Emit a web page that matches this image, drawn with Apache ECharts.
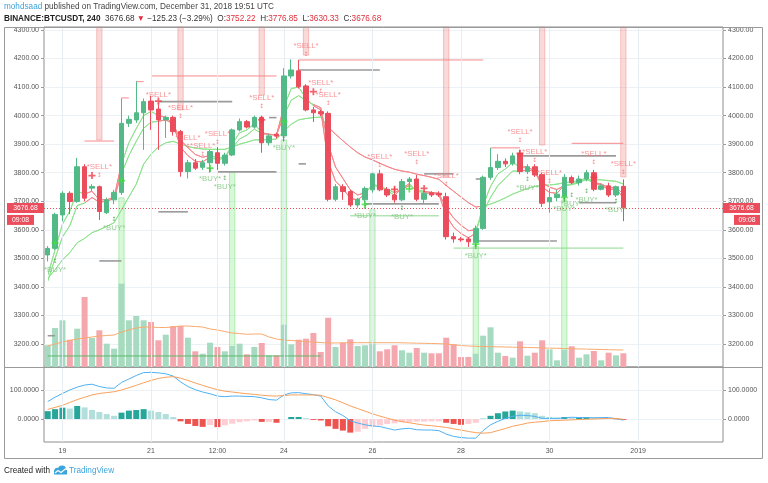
<!DOCTYPE html>
<html><head><meta charset="utf-8">
<script src="https://cdn.jsdelivr.net/npm/echarts@6/dist/echarts.min.js"></script>
<style>html,body{margin:0;padding:0;background:#fff}#c{width:768px;height:483px}</style>
</head><body><div id="c"></div>
<script>
// ---------------- data (BINANCE:BTCUSDT, 240) ----------------
const opens  = [3512,3535,3652,3728,3699,3821,3746,3751,3660,3705,3731,3973,3985,4010,4051,4023,3985,3994,3944,3804,3835,3819,3835,3870,3833,3862,3950,3979,3960,3994,3905,3935,3929,4139,4157,4104,4020,4014,4008,3707,3751,3734,3687,3705,3740,3796,3742,3722,3705,3769,3778,3707,3730,3728,3716,3576,3568,3568,3555,3605,3784,3818,3840,3831,3868,3804,3821,3794,3698,3713,3716,3783,3765,3778,3800,3742,3754,3722,3752.22];
const closes = [3535,3654,3728,3699,3821,3711,3752,3664,3705,3731,3973,3987,4010,4049,4020,3985,3994,3944,3804,3835,3816,3835,3874,3833,3862,3950,3979,3960,3994,3905,3929,3928,4139,4160,4101,4020,4010,4006,3707,3751,3734,3687,3707,3745,3796,3740,3722,3705,3769,3778,3707,3728,3722,3722,3576,3568,3565,3558,3605,3784,3818,3840,3831,3859,3804,3821,3792,3693,3713,3725,3784,3765,3778,3800,3742,3754,3722,3751,3676.68];
const highs  = [3543,3660,3735,3735,3852,3830,3760,3755,3713,3740,4061,4000,4120,4060,4070,4050,4000,4000,3950,3845,3848,3845,3880,3890,3870,3955,3990,3985,4000,4000,3935,3940,4166,4197,4195,4110,4030,4020,4015,3760,3760,3740,3712,3752,3800,3810,3750,3750,3778,3785,3792,3735,3735,3735,3730,3590,3575,3575,3615,3790,3887,3865,3850,3870,3880,3830,3830,3800,3745,3740,3795,3790,3790,3810,3810,3760,3765,3755,3776.85];
const lows   = [3489,3530,3630,3655,3695,3700,3735,3634,3655,3690,3722,3960,3975,3880,3950,3880,3922,3930,3786,3780,3810,3810,3800,3810,3825,3858,3945,3955,3955,3870,3895,3920,3909,4130,4095,4015,3978,3998,3700,3700,3705,3680,3678,3690,3730,3735,3715,3695,3700,3740,3700,3690,3715,3715,3566,3555,3558,3540,3540,3600,3775,3810,3820,3825,3795,3795,3785,3680,3660,3700,3700,3760,3755,3770,3735,3738,3715,3715,3630.33];
const volumes = [2170,3900,4670,2730,3830,7000,2900,3670,2330,1830,8330,4670,5100,4670,4500,2670,3230,4100,4100,2930,1570,1330,2430,2000,1570,2100,2330,1270,2000,2400,1170,1170,4230,2270,2730,2830,3400,1500,4930,2000,2400,2770,2100,2170,2270,1570,1770,2170,1670,1430,1900,1430,1370,1370,2930,2270,1000,1000,1330,3130,3970,1430,1100,930,2570,1130,1430,2670,1770,670,1730,2070,930,1270,1600,670,1430,1170,1370];
const volumeMA = [2100,2300,2500,2650,2800,2900,3000,3100,3150,3200,3500,3700,3900,4000,4000,3950,3950,4000,4100,4100,4050,4000,3800,3700,3550,3400,3350,3270,3300,3300,3000,2800,2700,2650,2600,2550,2500,2450,2400,2400,2430,2430,2430,2430,2430,2430,2430,2430,2420,2400,2380,2370,2350,2330,2300,2230,2150,2100,2070,2050,2030,2020,2000,1980,1970,1950,1930,1910,1890,1870,1850,1830,1810,1790,1770,1750,1730,1710,1700];
const emaFast = [3440,3530,3620,3665,3735,3725,3735,3705,3705,3715,3830,3905,3955,4000,4015,4000,3995,3970,3890,3860,3840,3838,3855,3845,3852,3900,3940,3950,3972,3940,3935,3932,4030,4095,4100,4060,4035,4020,3840,3770,3745,3710,3705,3725,3760,3752,3737,3721,3745,3762,3735,3731,3727,3725,3650,3609,3587,3572,3588,3686,3752,3796,3813,3836,3820,3820,3806,3750,3731,3728,3756,3760,3769,3785,3763,3758,3740,3745,3711];
const emaMid  = [3420,3500,3575,3615,3685,3694,3713,3697,3700,3710,3797,3860,3910,3956,3977,3980,3985,3971,3915,3888,3864,3854,3861,3852,3855,3887,3918,3932,3953,3937,3934,3932,4001,4054,4070,4053,4039,4028,3900,3820,3780,3740,3722,3730,3755,3752,3742,3730,3743,3755,3739,3735,3731,3728,3677,3641,3616,3597,3600,3661,3713,3755,3780,3806,3805,3810,3804,3767,3749,3741,3755,3758,3765,3777,3765,3761,3748,3749,3725];
const emaSlow = [3430,3460,3495,3520,3555,3570,3590,3600,3612,3625,3670,3715,3760,3830,3865,3890,3905,3910,3900,3892,3886,3883,3882,3882,3882,3890,3900,3907,3915,3915,3916,3918,3945,3970,3985,3990,3993,3995,3960,3935,3912,3890,3870,3855,3845,3833,3822,3812,3806,3802,3795,3790,3784,3777,3755,3735,3715,3695,3680,3683,3690,3700,3712,3725,3735,3745,3752,3755,3757,3760,3765,3768,3772,3775,3776,3775,3772,3770,3760];
const macdLine   = [60,75,88,100,110,117,120,112,107,106,126,138,150,160,161,159,156,148,128,112,101,93,87,79,77,79,79,78,77,73,67,65,83,90,91,87,84,79,45,25,12,-6,-14,-20,-24,-26,-32,-38,-34,-32,-37,-38,-38,-40,-52,-60,-64,-66,-66,-40,-20,-8,2,9,13,12,9,2,2,2,4,6,5,5,4,5,5,1,-4];
const signalLine = [33,40,47,57,67,75,83,88,91,94,100,108,116,125,133,140,144,146,141,133,124,116,108,101,96,93,90,87,85,82,80,79,81,83,83,83,83,82,74,66,56,45,36,27,18,10,3,-4,-9,-13,-17,-21,-23,-26,-29,-34,-38,-43,-47,-49,-47,-40,-33,-25,-20,-14,-11,-9,-6,-5,-4,-3,-2,-1,0,1,2,2,-1];
const histogram  = [27,34,39,36,45,40,31,24,17,11,22,29,31,34,29,24,17,7,-8,-17,-24,-27,-21,-28,-22,-16,-11,-8,-5,-10,-10,-13,0,7,7,3,-3,-5,-25,-34,-40,-47,-44,-34,-26,-22,-17,-15,-11,-11,-9,-9,-8,-8,-13,-17,-20,-17,-13,1,11,20,26,29,26,23,20,11,7,5,7,3,5,7,5,3,2,-1,-3];
const priceTicks = [3200,3300,3400,3500,3600,3700,3800,3900,4000,4100,4200,4300];
const macdTicks = [0,100];
const tickIndex = [2,14,23,32,44,56,68,80];
const tickText  = ['19','21','12:00','24','26','28','30','2019'];
const sellSignals = [[7,3820],[15,4072],[18,4027],[19,3922],[21,3894],[23,3936],[29,4062],[35,4244],[37,4114],[38,4072],[45,3855],[50,3866],[54,3789],[64,3943],[66,3873],[68,3799],[74,3866],[78,3831]];
const buySignals  = [[1,3459],[9,3606],[22,3778],[24,3750],[32,3887],[43,3649],[48,3645],[58,3508],[65,3747],[70,3673],[71,3691],[73,3705],[77,3670]];
const crossUp   = [[1,3554],[10,3772],[22,3816],[32,3979],[43,3689],[49,3743],[58,3550],[70,3714]];
const crossDown = [[6,3790],[15,4051],[29,3985],[36,4084],[47,3742],[51,3745],[64,3868],[74,3784]];
const redBands   = [[7,3915],[18,4020],[29,4072],[35,4212],[54,3785],[67,3897],[78,3785]];
const greenBands = [[10,3712],[25,3803],[32,3915],[44,3670],[58,3543],[70,3705]];
const redLevels   = [[5,9,3911],[10,11,4062],[12,13,4119],[14,31,4139],[34,59,4195],[60,63.6,3887],[71,78,3903]];
const grayLevels  = [[7,10,3491],[15,19,3663],[15,25,4049],[23,31,3803],[30,31,3993],[34,45,4160],[34,35,3831],[43,53,3691],[51,55,3796],[58,69,3561],[58,58.6,3778],[64,77,3859],[72,77,3695],[0,0.9,3229],[3.8,4.3,3274]];
const greenLevels = [[41,53,3649],[55,78,3536]];
const volumeLevel = [[0,37,3158]];
const fastRegimes = [[0,5,1],[5,10,0],[10,15,1],[15,22,0],[22,29,1],[29,32,0],[32,36,1],[36,43,0],[43,47,1],[47,49,0],[49,51,1],[51,58,0],[58,64,1],[64,70,0],[70,74,1],[74,79,0]];
const slowRegimes = [[0,38,1],[38,59,0],[59,79,1]];
const lastPrice = 3676.68;

// ---------------- chart ----------------
const FONT = '"Liberation Sans", Arial, sans-serif';
const UP = '#53b987', DOWN = '#eb4d5c';
const LG = '#8fe38f', LR = '#f4878a';
const nSlots = 92;
const t0 = Date.UTC(2018, 11, 18, 16);
const categories = Array.from({length: nSlots}, (_, i) => new Date(t0 + i * 4 * 3600e3).toISOString().slice(5, 16).replace('T', ' '));
const isTick = (idx) => tickIndex.indexOf(idx) >= 0;

const chart = echarts.init(document.getElementById('c'), null, {renderer: 'canvas'});

const candleData = opens.map((o, i) => [o, closes[i], lows[i], highs[i]]);
const volData = volumes.map((v, i) => ({value: v, itemStyle: {color: closes[i] >= opens[i] ? '#a6dbc1' : '#f5a7ae'}}));
const histData = histogram.map((v, i) => {
  const prev = i > 0 ? histogram[i - 1] : v - 1;
  let c;
  if (v >= 0) c = v >= prev ? '#26a69a' : '#b2dfdb';
  else c = v < prev ? '#ef5350' : '#ffcdd2';
  return {value: v, itemStyle: {color: c}};
});
const toPieces = (reg) => reg.map(([a, b, g]) => ({gte: a, lt: b, color: g ? LG : LR}));

const bandData = redBands.map(([i, p]) => [i, p, 0]).concat(greenBands.map(([i, p]) => [i, p, 1]));
const levelData = redLevels.map(l => [l[0], l[1], l[2], 0])
  .concat(grayLevels.map(l => [l[0], l[1], l[2], 1]))
  .concat(greenLevels.map(l => [l[0], l[1], l[2], 2]))
  .concat(volumeLevel.map(l => [l[0], l[1], l[2], 3]));

const labelStyle = {fontSize: 7, color: '#555', fontFamily: FONT};
const vGrid = {silent: true, symbol: 'none', label: {show: false}, animation: false,
  lineStyle: {color: '#e6edf3', width: 1, type: 'solid'}, data: tickIndex.map(i => ({xAxis: i}))};

const option = {
  animation: false,
  textStyle: {fontFamily: FONT},
  grid: [
    {left: 44, top: 27, width: 679, height: 340, show: true, borderColor: '#8e8e8e', borderWidth: 1},
    {left: 44, top: 367, width: 679, height: 75, show: true, borderColor: '#8e8e8e', borderWidth: 1}
  ],
  xAxis: [
    {type: 'category', gridIndex: 0, data: categories, boundaryGap: true, axisLine: {show: false}, axisTick: {show: false}, axisLabel: {show: false}, splitLine: {show: false}},
    {type: 'category', gridIndex: 1, data: categories, boundaryGap: true, axisLine: {show: false},
     axisTick: {show: true, interval: isTick, alignWithLabel: true, length: 3, lineStyle: {color: '#888'}},
     axisLabel: {show: true, interval: isTick, margin: 6, formatter: (v, idx) => tickText[tickIndex.indexOf(idx)] || '', ...labelStyle},
     splitLine: {show: false}}
  ],
  yAxis: [
    {type: 'value', gridIndex: 0, position: 'right', min: 3119.4, max: 4310.5, axisLine: {show: false},
     axisTick: {show: true, customValues: priceTicks, length: 3, lineStyle: {color: '#999'}},
     axisLabel: {customValues: priceTicks, formatter: v => v.toFixed(2), margin: 5, ...labelStyle},
     splitLine: {show: true, lineStyle: {color: '#ecf1f6'}}},
    {type: 'value', gridIndex: 0, position: 'left', min: 3119.4, max: 4310.5, axisLine: {show: false},
     axisTick: {show: true, customValues: priceTicks, length: 3, lineStyle: {color: '#999'}},
     axisLabel: {customValues: priceTicks, formatter: v => v.toFixed(2), margin: 5, ...labelStyle},
     splitLine: {show: false}},
    {type: 'value', gridIndex: 0, min: 0, max: 34000, show: false, splitLine: {show: false}},
    {type: 'value', gridIndex: 1, position: 'right', min: -79.3, max: 179.3, axisLine: {show: false},
     axisTick: {show: true, customValues: macdTicks, length: 3, lineStyle: {color: '#999'}},
     axisLabel: {customValues: macdTicks, formatter: v => v.toFixed(4), margin: 5, ...labelStyle},
     splitLine: {show: true, lineStyle: {color: '#ecf1f6'}}},
    {type: 'value', gridIndex: 1, position: 'left', min: -79.3, max: 179.3, axisLine: {show: false},
     axisTick: {show: true, customValues: macdTicks, length: 3, lineStyle: {color: '#999'}},
     axisLabel: {customValues: macdTicks, formatter: v => v.toFixed(4), margin: 5, ...labelStyle},
     splitLine: {show: false}}
  ],
  visualMap: [
    {show: false, type: 'piecewise', dimension: 0, seriesIndex: [6, 7], pieces: toPieces(fastRegimes)},
    {show: false, type: 'piecewise', dimension: 0, seriesIndex: 5, pieces: toPieces(slowRegimes)}
  ],
  series: [
    {type: 'line', xAxisIndex: 0, yAxisIndex: 0, data: [], z: 0, markLine: vGrid, silent: true},
    {type: 'bar', xAxisIndex: 0, yAxisIndex: 2, data: volData, barWidth: 6, z: 1, silent: true},
    {type: 'line', xAxisIndex: 0, yAxisIndex: 2, data: volumeMA, symbol: 'none', z: 2, lineStyle: {color: '#f8aa6e', width: 1}, silent: true},
    {type: 'custom', xAxisIndex: 0, yAxisIndex: 0, data: bandData, z: 1, silent: true, encode: {x: 0, y: 1},
     renderItem: (params, api) => {
       const i = api.value(0), p = api.value(1), kind = api.value(2);
       const pt = api.coord([i, p]);
       const w = api.size([1, 0])[0] * 0.72;
       const cs = params.coordSys;
       const edge = kind === 0 ? cs.y : cs.y + cs.height;
       return {type: 'rect', shape: {x: pt[0] - w / 2, y: Math.min(pt[1], edge), width: w, height: Math.abs(edge - pt[1])},
         style: kind === 0 ? {fill: 'rgba(240,128,128,0.30)', stroke: 'rgba(240,128,128,0.45)', lineWidth: 1}
                           : {fill: 'rgba(144,238,144,0.35)', stroke: 'rgba(110,215,110,0.45)', lineWidth: 1}};
     }},
    {type: 'custom', xAxisIndex: 0, yAxisIndex: 0, data: levelData, z: 3, silent: true, encode: {x: [0, 1], y: 2},
     renderItem: (params, api) => {
       const a = api.coord([api.value(0), api.value(2)]);
       const b = api.coord([api.value(1), api.value(2)]);
       const kind = api.value(3);
       const col = ['#f78a8c', '#9a9a9a', '#8ed88e', '#5fb86a'][kind];
       return {type: 'line', shape: {x1: a[0], y1: a[1], x2: b[0], y2: b[1]}, style: {stroke: col, lineWidth: kind === 1 ? 1.6 : 1}};
     }},
    {type: 'line', xAxisIndex: 0, yAxisIndex: 0, data: emaSlow, symbol: 'none', z: 4, lineStyle: {width: 1}, silent: true},
    {type: 'line', xAxisIndex: 0, yAxisIndex: 0, data: emaMid, symbol: 'none', z: 4, lineStyle: {width: 1}, silent: true},
    {type: 'line', xAxisIndex: 0, yAxisIndex: 0, data: emaFast, symbol: 'none', z: 4, lineStyle: {width: 1}, silent: true},
    {type: 'candlestick', xAxisIndex: 0, yAxisIndex: 0, data: candleData, barWidth: 5, z: 5, silent: true,
     itemStyle: {color: UP, color0: DOWN, borderColor: UP, borderColor0: DOWN, borderWidth: 1},
     markLine: {silent: true, symbol: 'none', label: {show: false}, lineStyle: {color: DOWN, type: [1, 2], width: 1}, data: [{yAxis: lastPrice}]}},
    {type: 'scatter', xAxisIndex: 0, yAxisIndex: 0, data: crossUp, symbol: 'path://M3,0H5V3H8V5H5V8H3V5H0V3H3Z', symbolSize: 7, itemStyle: {color: '#3fe03f'}, z: 6, silent: true},
    {type: 'scatter', xAxisIndex: 0, yAxisIndex: 0, data: crossDown, symbol: 'path://M3,0H5V3H8V5H5V8H3V5H0V3H3Z', symbolSize: 7, itemStyle: {color: '#f03c4a'}, z: 6, silent: true},
    {type: 'scatter', xAxisIndex: 0, yAxisIndex: 0, data: sellSignals, symbolSize: 0, itemStyle: {color: 'transparent'}, z: 7, silent: true,
     label: {show: true, position: 'inside', offset: [0, 4], formatter: '{t|*SELL*}\n{a|↕}',
       rich: {t: {fontSize: 7.8, color: '#f4787c', lineHeight: 9, fontFamily: FONT}, a: {fontSize: 6, color: '#f4787c', lineHeight: 8, fontFamily: 'DejaVu Sans'}}}},
    {type: 'scatter', xAxisIndex: 0, yAxisIndex: 0, data: buySignals, symbolSize: 0, itemStyle: {color: 'transparent'}, z: 7, silent: true,
     label: {show: true, position: 'inside', offset: [0, -4], formatter: '{a|↕}\n{t|*BUY*}',
       rich: {t: {fontSize: 7.8, color: '#79c279', lineHeight: 9, fontFamily: FONT}, a: {fontSize: 6, color: '#4f9f4f', lineHeight: 8, fontFamily: 'DejaVu Sans'}}}},
    {type: 'line', xAxisIndex: 1, yAxisIndex: 3, data: [], z: 0, markLine: vGrid, silent: true},
    {type: 'bar', xAxisIndex: 1, yAxisIndex: 3, data: histData, barWidth: 6, z: 1, silent: true},
    {type: 'line', xAxisIndex: 1, yAxisIndex: 3, data: macdLine, symbol: 'none', z: 2, lineStyle: {color: '#4fb0f2', width: 1}, silent: true},
    {type: 'line', xAxisIndex: 1, yAxisIndex: 3, data: signalLine, symbol: 'none', z: 2, lineStyle: {color: '#f9a05a', width: 1}, silent: true}
  ]
};
chart.setOption(option);

// ---------- decorations (header, frame, price tags) ----------
const yLast = chart.convertToPixel({yAxisIndex: 0}, lastPrice);
const tag = (x, y, w, txt) => ({type: 'group', z: 100, children: [
  {type: 'rect', shape: {x: x, y: y, width: w, height: 10}, style: {fill: '#eb4d5c'}},
  {type: 'text', style: {x: x + w / 2, y: y + 5, text: txt, fill: '#fff', font: '6.8px ' + FONT, textAlign: 'center', textVerticalAlign: 'middle'}}
]});
chart.setOption({graphic: [
  {type: 'rect', z: 50, shape: {x: 4.5, y: 27.5, width: 758, height: 431}, style: {fill: 'none', stroke: '#9a9a9a', lineWidth: 1}},
  {type: 'line', z: 50, shape: {x1: 4, y1: 367.5, x2: 763, y2: 367.5}, style: {stroke: '#9a9a9a', lineWidth: 1}},
  {type: 'text', z: 60, style: {x: 4, y: 7, textVerticalAlign: 'middle', text: '{u|mohdsaad}{g| published on TradingView.com, December 31, 2018 19:51 UTC}',
     rich: {u: {fill: '#3ba3dc', font: '8.2px ' + FONT}, g: {fill: '#444', font: '8.2px ' + FONT}}}},
  {type: 'text', z: 60, style: {x: 4, y: 19, textVerticalAlign: 'middle',
     text: '{b|BINANCE:BTCUSDT, 240}{n|  3676.68 }{r|▼}{n| −125.23 (−3.29%)  O:}{r|3752.22}{n|  H:}{r|3776.85}{n|  L:}{r|3630.33}{n|  C:}{r|3676.68}',
     rich: {b: {fill: '#222', font: 'bold 8.2px ' + FONT}, n: {fill: '#333', font: '8.2px ' + FONT}, r: {fill: '#e0303c', font: '8.2px ' + FONT}}}},
  {type: 'text', z: 60, style: {x: 4, y: 471, textVerticalAlign: 'middle', text: 'Created with', fill: '#222', font: '8.2px ' + FONT}},
  {type: 'circle', z: 60, shape: {cx: 57.5, cy: 471, r: 3.2}, style: {fill: '#3ca5dc'}},
  {type: 'circle', z: 60, shape: {cx: 62, cy: 469.5, r: 4}, style: {fill: '#3ca5dc'}},
  {type: 'rect', z: 60, shape: {x: 54, y: 470, width: 13, height: 4.5}, style: {fill: '#3ca5dc'}},
  {type: 'polyline', z: 61, shape: {points: [[55, 473], [58, 470.5], [61, 472.5], [66, 468.5]]}, style: {stroke: '#fff', lineWidth: 1.1, fill: 'none'}},
  {type: 'text', z: 60, style: {x: 69, y: 471, textVerticalAlign: 'middle', text: 'TradingView', fill: '#3ca5dc', font: '8.2px ' + FONT}},
  tag(723, yLast - 5, 37, '3676.68'),
  tag(734, yLast + 7, 26, '09:08'),
  tag(7, yLast - 5, 37, '3676.68'),
  tag(7, yLast + 7, 27, '09:08')
]});
</script>
</body></html>
